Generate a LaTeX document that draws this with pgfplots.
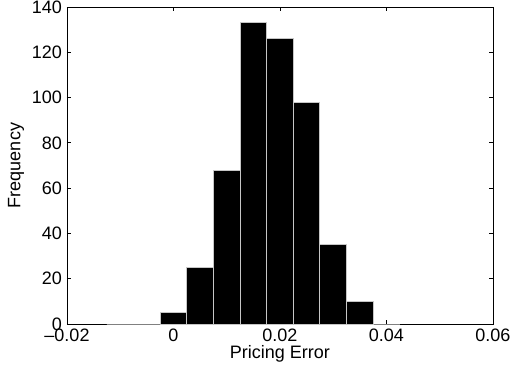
\documentclass[border=0pt]{standalone}
\usepackage{pgfplots}
\pgfplotsset{compat=1.18}
\usepackage{fontspec}
\setmainfont{Liberation Sans}
\begin{document}
\fontsize{18}{21}\selectfont
\begin{tikzpicture}
\begin{axis}[
  at={(0,0)}, anchor=south west,
  scale only axis,
  width=426pt, height=317pt,
  xmin=-0.02, xmax=0.06,
  ymin=0, ymax=140,
  scaled x ticks=false,
  xtick={-0.02,0,0.02,0.04,0.06},
  xticklabels={–0.02,0,0.02,0.04,0.06},
  ytick={0,20,...,140},
  /pgf/number format/assume math mode=true,
  tick align=inside,
  major tick length=4pt,
  tick style={black, line width=0.8pt},
  axis line style={black, line width=0.9pt},
  ticklabel style={font=\fontsize{18}{21}\selectfont},
  xticklabel style={yshift=1pt},
  yticklabel style={xshift=1pt},
  xlabel={Pricing Error},
  ylabel={Frequency},
  xlabel style={at={(axis description cs:0.5,0)}, anchor=center, yshift=-30pt, font=\fontsize{18}{21}\selectfont},
  ylabel style={at={(axis description cs:0,0.5)}, anchor=center, yshift=51pt, font=\fontsize{18}{21}\selectfont},
]
\addplot[ybar interval, fill=black, draw=gray!45, line width=1pt] coordinates {
  (-0.0125,0) (-0.0075,0) (-0.0025,5) (0.0025,25) (0.0075,68) (0.0125,133)
  (0.0175,126) (0.0225,98) (0.0275,35) (0.0325,10) (0.0375,0) (0.0425,0)
};
\end{axis}
\pgfresetboundingbox
\path[use as bounding box] (-67pt,-44pt) rectangle (447pt,324pt);
\end{tikzpicture}
\end{document}
